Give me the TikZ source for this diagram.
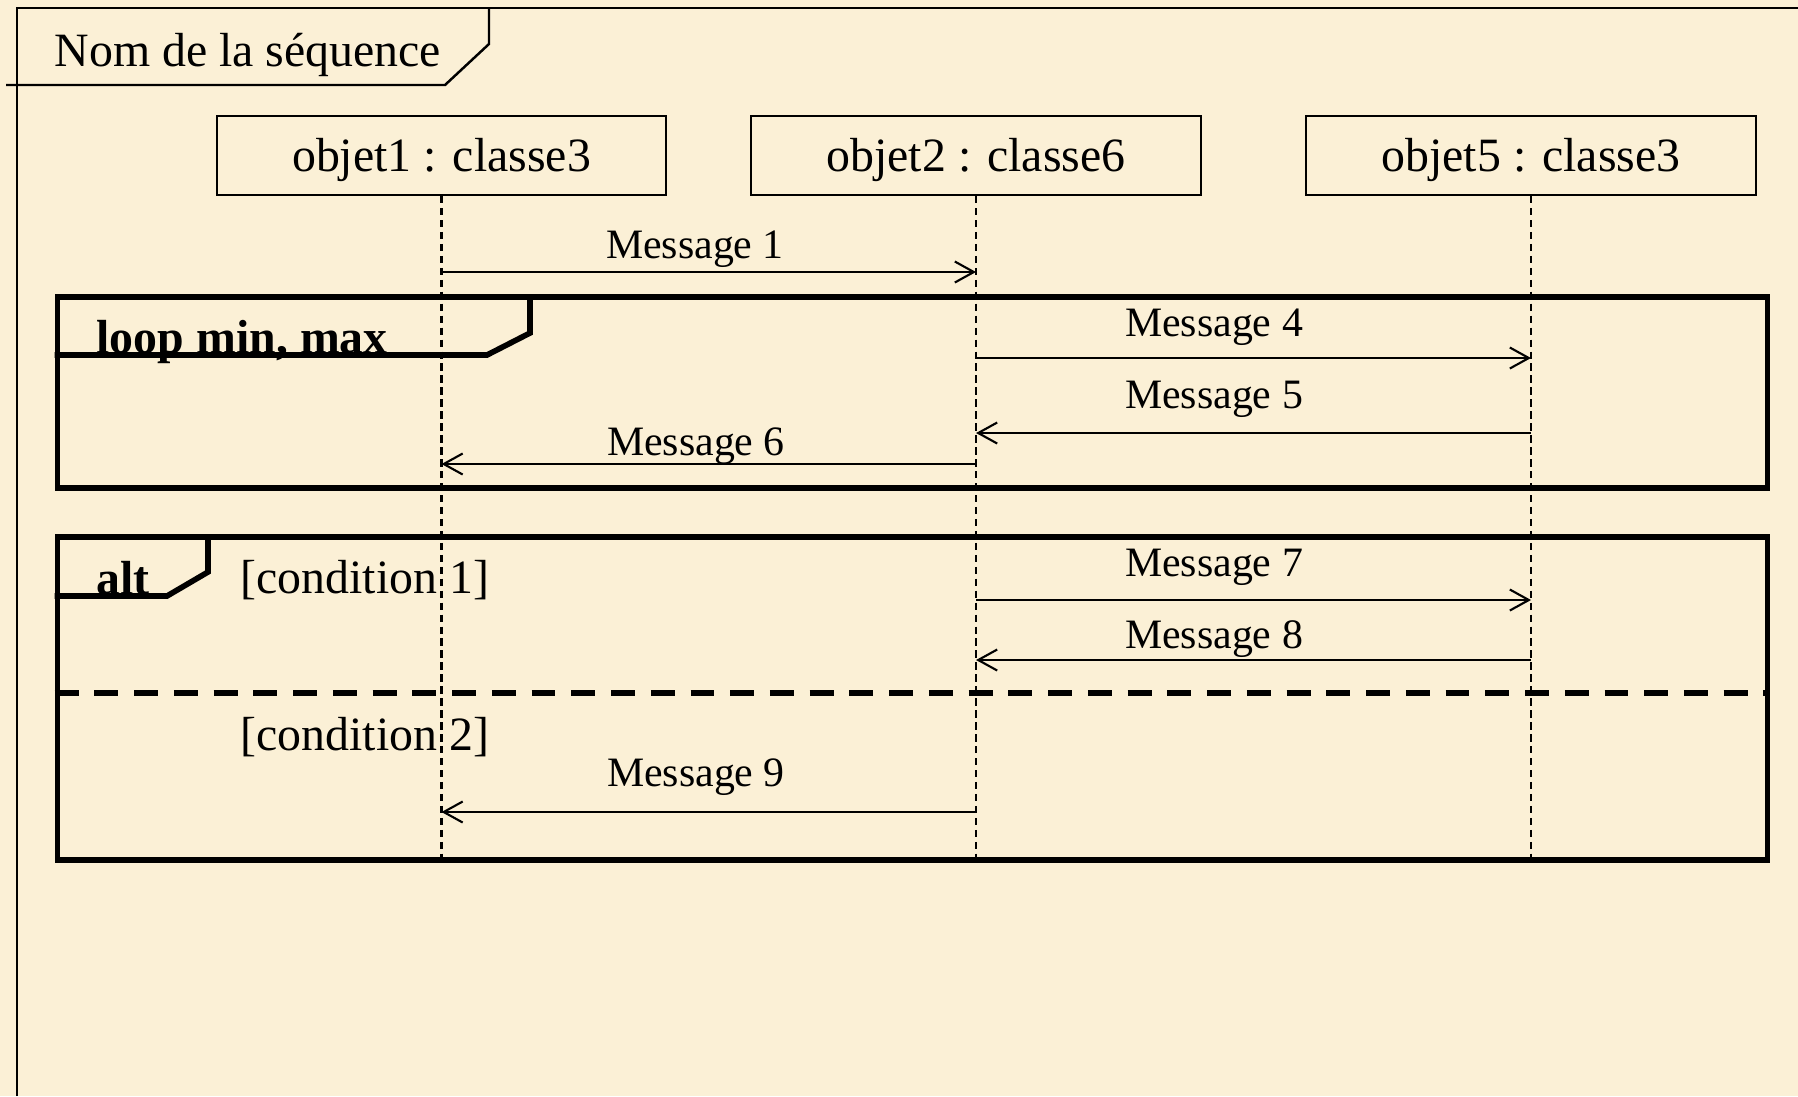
\documentclass[tikz,border=0pt]{standalone}
\usepackage{fontspec}
\setmainfont{Liberation Serif}
\usetikzlibrary{arrows.meta}
\definecolor{SeqBack}{RGB}{251, 240, 214}

\begin{document}
\begin{tikzpicture}[
        x=0.01cm, y=-0.01cm,
        seqframe/.style={draw, line width=0.7pt},
        objbox/.style={
          rectangle,
          draw,
          line width=0.6pt,
          inner sep=0pt,
          minimum width=4.49cm,
          minimum height=0.79cm,
          text height=9pt,
          text depth=0pt,
          font=\fontsize{13.6pt}{16pt}\selectfont
        },
        fragbox/.style={
          rectangle,
          draw,
          line width=1.6pt,
          inner sep=0pt,
          minimum width=17.09cm
        },
        fragline/.style={line width=1.6pt},
        lifeline/.style={line width=0.6pt, dash pattern=on 2.1pt off 1.3pt},
        msg/.style={-{Straight Barb[length=1.9mm, width=2.1mm]}, line width=0.6pt},
        msglabel/.style={anchor=base, inner sep=0pt, font=\fontsize{11.9pt}{14pt}\selectfont},
        guard/.style={anchor=base west, inner sep=0pt, font=\fontsize{13.6pt}{16pt}\selectfont},
        fraglabel/.style={guard, font=\fontsize{13.6pt}{16pt}\selectfont\bfseries}
      ]
        \fill[SeqBack] (0, 0) rectangle (1798, 1096);
        \useasboundingbox (0, 0) rectangle (1798, 1096);

        \draw[seqframe] (17, 1096) -- (17, 8) -- (1798, 8);
        \draw[seqframe] (6, 85) -- (445, 85) -- (489, 44) -- (489, 8);
        \node (seqname) at (54, 66) [guard] {Nom de la séquence};

        \node (obj1) at (441.5, 155.5) [objbox] {objet1 : classe3};
        \node (obj2) at (976, 155.5)   [objbox] {objet2 : classe6};
        \node (obj5) at (1531, 155.5)  [objbox] {objet5 : classe3};

        \node (loop) at (912.5, 392.5) [fragbox, minimum height=1.91cm] {};
        \node (alt)  at (912.5, 698.5) [fragbox, minimum height=3.23cm] {};

        \draw[fragline] (loop.west |- 0, 355) -- (487, 355) -- (530, 333) -- (loop.north -| 530, 0);
        \node (looplab) at (96, 353) [fraglabel] {loop min, max};

        \draw[fragline] (alt.west |- 0, 596) -- (167, 596) -- (208, 572) -- (alt.north -| 208, 0);
        \node (altlab) at (96, 594) [fraglabel] {alt};
        \node (cond1) at (240, 593) [guard] {[condition 1]};
        \draw[fragline, dash pattern=on 6.8pt off 4.5pt] (alt.west |- 0, 693) -- (alt.east |- 0, 693);
        \node (cond2) at (240, 750) [guard] {[condition 2]};

        \draw[lifeline] (obj1.south) -- (obj1 |- alt.south);
        \draw[lifeline] (obj2.south) -- (obj2 |- alt.south);
        \draw[lifeline] (obj5.south) -- (obj5 |- alt.south);

        \node (lab1) at (695, 258)  [msglabel] {Message 1};
        \draw[msg] (obj1 |- 0, 272) -- (obj2 |- 0, 272);

        \node (lab4) at (1214, 336) [msglabel] {Message 4};
        \draw[msg] (obj2 |- 0, 358) -- (obj5 |- 0, 358);
        \node (lab5) at (1214, 408) [msglabel] {Message 5};
        \draw[msg] (obj5 |- 0, 433) -- (obj2 |- 0, 433);
        \node (lab6) at (696, 455)  [msglabel] {Message 6};
        \draw[msg] (obj2 |- 0, 464) -- (obj1 |- 0, 464);

        \node (lab7) at (1214, 576) [msglabel] {Message 7};
        \draw[msg] (obj2 |- 0, 600) -- (obj5 |- 0, 600);
        \node (lab8) at (1214, 648) [msglabel] {Message 8};
        \draw[msg] (obj5 |- 0, 660) -- (obj2 |- 0, 660);
        \node (lab9) at (696, 786)  [msglabel] {Message 9};
        \draw[msg] (obj2 |- 0, 812) -- (obj1 |- 0, 812);
      \end{tikzpicture}
\end{document}
